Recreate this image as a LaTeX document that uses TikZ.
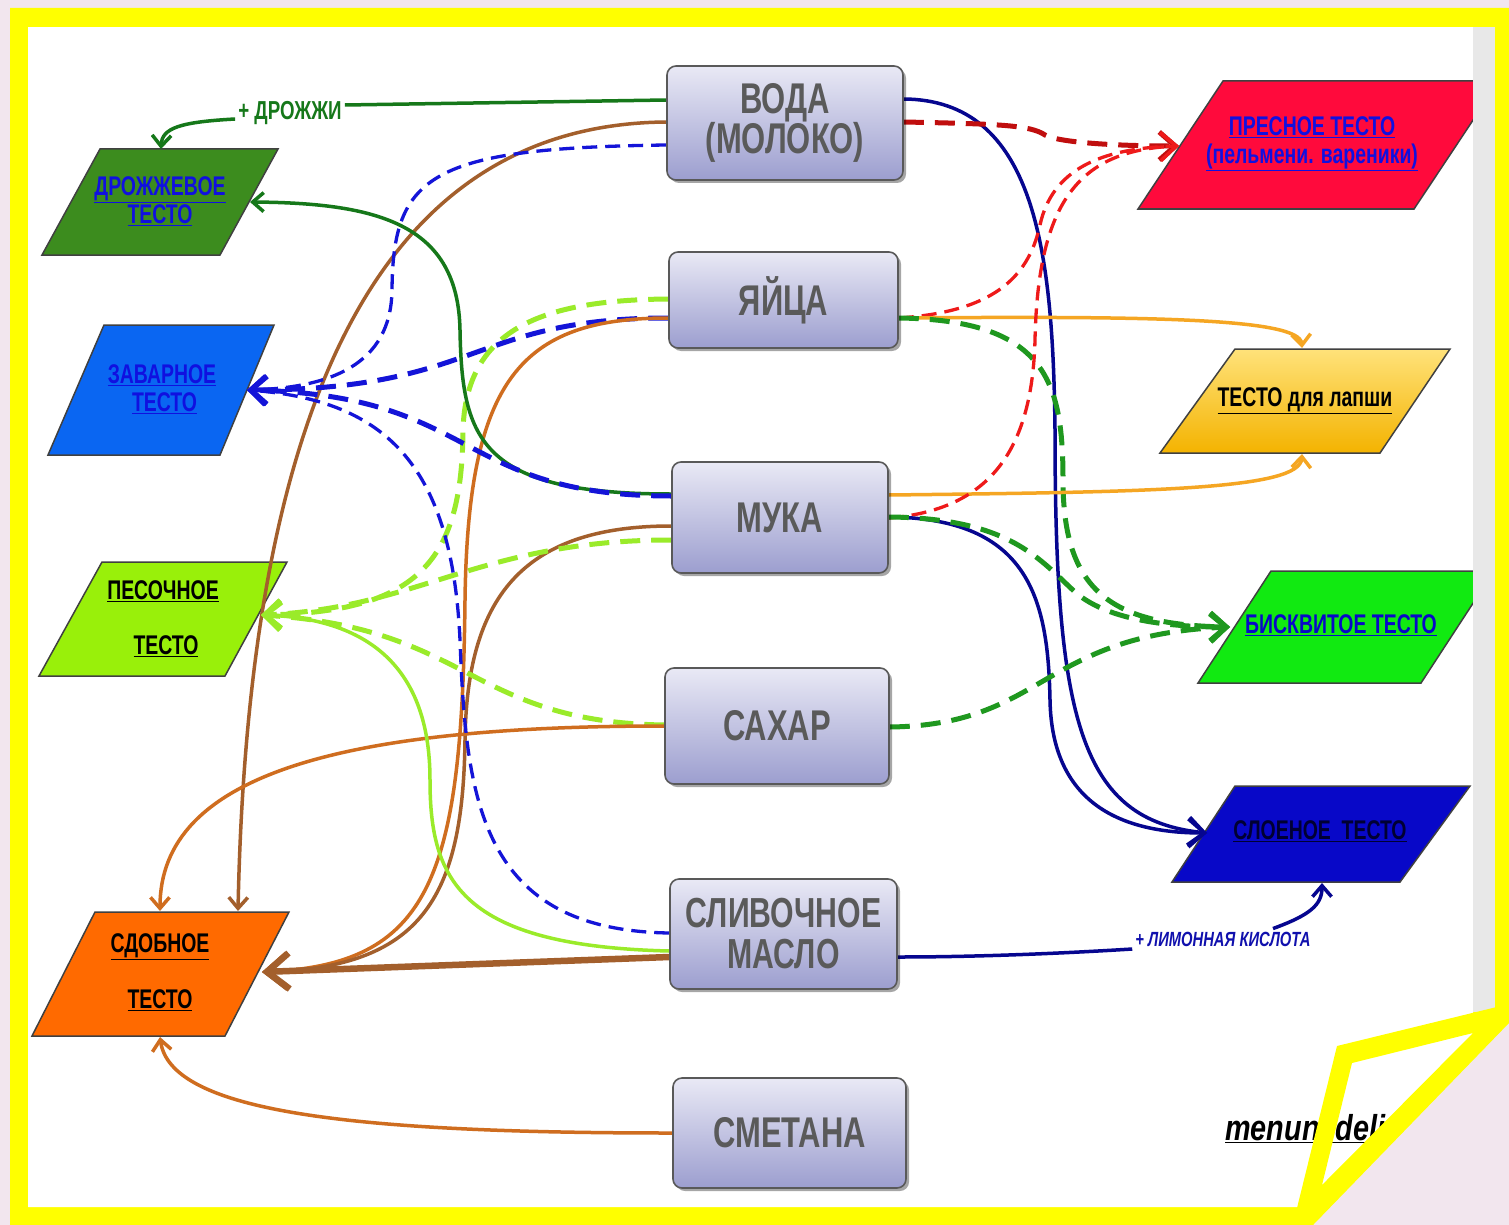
\documentclass[tikz,border=0pt]{standalone}
\usepackage{fontspec}
\setmainfont[FakeStretch=0.72]{Liberation Sans}
\newfontfamily\wmfont[FakeStretch=0.8]{Liberation Sans}
\usetikzlibrary{arrows.meta,shadows,calc}
\pgfdeclarelayer{bg}
\pgfdeclarelayer{lines}
\pgfdeclarelayer{fg}
\pgfsetlayers{bg,lines,main,fg}
\definecolor{bgpink}{HTML}{F2E6EE}
\definecolor{frameY}{HTML}{FFFF00}
\definecolor{stripG}{HTML}{E8E8E8}
\definecolor{boxtop}{HTML}{E9E9F5}
\definecolor{boxbot}{HTML}{9C9ECF}
\definecolor{boxtext}{HTML}{5A5A5A}
\definecolor{dgreen}{HTML}{16781A}
\definecolor{brownA}{HTML}{A35F2C}
\definecolor{orangeB}{HTML}{CF6D1F}
\definecolor{orangeL}{HTML}{F5A623}
\definecolor{navy}{HTML}{06068F}
\definecolor{blueD}{HTML}{1414D8}
\definecolor{redD}{HTML}{C00E0E}
\definecolor{redL}{HTML}{EE1A1A}
\definecolor{greenD}{HTML}{1F981F}
\definecolor{limeL}{HTML}{9AEB2A}
\definecolor{linkblue}{HTML}{1010E0}
\definecolor{pDro}{HTML}{3C8C1E}
\definecolor{pZav}{HTML}{0A66F2}
\definecolor{pPes}{HTML}{99F00A}
\definecolor{pSdo}{HTML}{FF6A00}
\definecolor{pPre}{HTML}{FF0A3C}
\definecolor{pLapT}{HTML}{FFE27A}
\definecolor{pLapB}{HTML}{F4B300}
\definecolor{pBis}{HTML}{11EA11}
\definecolor{pSlo}{HTML}{0808C8}
\definecolor{sloText}{HTML}{000033}
\begin{document}
\begin{tikzpicture}[x=1pt,y=-1pt,
  ingr/.style={rectangle, rounded corners=9pt, draw=black!65, line width=1.6pt,
    top color=boxtop, bottom color=boxbot, inner sep=0pt, align=center,
    text=boxtext, font=\fontsize{43}{40}\selectfont\bfseries,
    drop shadow={shadow xshift=3pt, shadow yshift=-3pt, fill=black, opacity=0.35}},
  para/.style={draw=black!75, line width=1.5pt, line join=miter},
  plabel/.style={align=center, inner sep=0pt, font=\fontsize{27}{28}\selectfont\bfseries},
  sol/.style={line width=3.5pt},
  dshthin/.style={line width=3.3pt, dash pattern=on 15pt off 8pt},
  dshthick/.style={line width=5pt, dash pattern=on 20pt off 11pt},
  tipS/.style={-{Straight Barb[length=11pt,width=19pt]}},
  tipM/.style={-{Straight Barb[length=16pt,width=28pt]}},
  tipL/.style={-{Straight Barb[length=22pt,width=36pt]}}
]
\useasboundingbox (0,0) rectangle (1509,1225);

% ---------- page and frame ----------
\begin{pgfonlayer}{bg}
\fill[bgpink] (0,0) rectangle (1509,1225);
\fill[frameY] (10,8) -- (1509,8) -- (1509,1022) -- (1312,1225) -- (10,1225) -- cycle;
\fill[white] (28,27) -- (1473,27) -- (1473,1050) -- (1320,1207) -- (28,1207) -- cycle;

% ---------- result shapes ----------
\path[para, fill=pDro] (100,149) -- (278,149) -- (220,255) -- (42,255) -- cycle;
\node[plabel, text=linkblue] (drozh) at (160,201.5) {\underline{ДРОЖЖЕВОЕ}\\\underline{ТЕСТО}};

\path[para, fill=pZav] (104,325) -- (274,325) -- (220,455) -- (48,455) -- cycle;
\node[plabel, text=linkblue] (zavar) at (162,389.5) {\underline{ЗАВАРНОЕ}\\\hspace*{5pt}\underline{ТЕСТО}};

\path[para, fill=pPes] (102,562) -- (287,562) -- (225,676) -- (39,676) -- cycle;
\node[plabel, text=black] (pesoch) at (163,618.5) {\underline{ПЕСОЧНОЕ}\\[27pt]\hspace*{6pt}\underline{ТЕСТО}};

\path[para, fill=pSdo] (95,912) -- (289,912) -- (225,1036) -- (32,1036) -- cycle;
\node[plabel, text=black] (sdob) at (160,972) {\underline{СДОБНОЕ}\\[28pt]\underline{ТЕСТО}};

\path[para, fill=pPre] (1223,81) -- (1499,81) -- (1414,209) -- (1138,209) -- cycle;
\node[plabel, text=linkblue] (presn) at (1312,144) {\underline{ПРЕСНОЕ ТЕСТО}\\\underline{(пельмени. вареники)}};

\path[para, top color=pLapT, bottom color=pLapB] (1235,349) -- (1450,349) -- (1380,453) -- (1160,453) -- cycle;
\node[plabel, text=black] (lapsh) at (1305,401) {\underline{ТЕСТО для лапши}};

\path[para, fill=pBis] (1271,571) -- (1494,571) -- (1421,683) -- (1198,683) -- cycle;
\node[plabel, text=pSlo] (biskv) at (1341,625) {\underline{БИСКВИТОЕ ТЕСТО}};

\path[para, fill=pSlo] (1235,786) -- (1470,786) -- (1400,882) -- (1172,882) -- cycle;
\node[plabel, text=sloText] (sloen) at (1320,831) {\underline{СЛОЕНОЕ\ \ ТЕСТО}};

\node[anchor=base west, inner sep=0pt, font=\wmfont\fontsize{36}{38}\selectfont\bfseries\itshape] (wm) at (1225,1140) {\underline{menunedeli}};
\end{pgfonlayer}

% ---------- arrow targets ----------
\coordinate (drT) at (161,149);
\coordinate (drR) at (250,202);
\coordinate (zaR) at (247,390);
\coordinate (peR) at (261,615);
\coordinate (sdTL) at (160,911);
\coordinate (sdTR) at (238,911);
\coordinate (sdR) at (262,972);
\coordinate (sdB) at (160,1037);
\coordinate (prL) at (1179,146);
\coordinate (laT) at (1302,348);
\coordinate (laB) at (1302,454);
\coordinate (biL) at (1230,627);
\coordinate (slL) at (1207,833);
\coordinate (slB) at (1322,883);

% ---------- ingredient boxes ----------
\node[ingr, minimum width=236pt, minimum height=114pt] (voda) at (785,123) {ВОДА\\(МОЛОКО)};
\node[ingr, minimum width=229pt, minimum height=96pt] (yaica) at (783.5,300) {ЯЙЦА};
\node[ingr, minimum width=216pt, minimum height=111pt] (muka) at (780,517.5) {МУКА};
\node[ingr, minimum width=224pt, minimum height=116pt] (sahar) at (777,726) {САХАР};
\node[ingr, minimum width=227pt, minimum height=110pt, font=\fontsize{42}{41}\selectfont\bfseries] (maslo) at (783.5,934) {СЛИВОЧНОЕ\\МАСЛО};
\node[ingr, minimum width=233pt, minimum height=110pt] (smetana) at (789.5,1133) {СМЕТАНА};

% ---------- connector labels ----------
\node[font=\fontsize{26}{27}\selectfont\bfseries, text=dgreen, inner sep=3pt] (dro) at (290,113) {+ ДРОЖЖИ};
\node[font=\fontsize{20.5}{22}\selectfont\bfseries\itshape, text=blueD!80!black, inner sep=3pt] (lim) at (1223,939) {+ ЛИМОННАЯ КИСЛОТА};

% ---------- connectors ----------
\begin{pgfonlayer}{lines}
% from ВОДА
\draw[sol, dgreen] (voda.west |- 0,100) -- ([yshift=8pt]dro.east);
\draw[sol, dgreen, tipS] ([yshift=-6pt]dro.west) .. controls (180,122) and (162,128) .. (drT);
\draw[sol, brownA, tipS] (voda.west |- 0,122) .. controls (420,124) and (250,330) .. (sdTR);
\draw[dshthin, blueD, tipM] (voda.west |- 0,145) .. controls (430,148) and (393,175) .. (392,290) .. controls (391,365) and (330,388) .. (zaR);
\draw[sol, navy, tipM] (voda.east |- 0,99) .. controls (1035,100) and (1053,250) .. (1055,430) .. controls (1055,720) and (1080,820) .. (slL);
\draw[dshthick, redD, tipM] (voda.east |- 0,122) .. controls (1000,124) and (1030,125) .. (1045,135) .. controls (1060,143) and (1120,146) .. (prL);
% from ЯЙЦА
\draw[dshthick, limeL, tipM] (yaica.west |- 0,299) .. controls (540,300) and (466,330) .. (463,430) .. controls (462,560) and (420,612) .. (peR);
\draw[dshthick, blueD, tipM] (yaica.west |- 0,318) .. controls (470,318) and (480,390) .. (zaR);
\draw[sol, orangeB, tipL] (yaica.west |- 0,318) .. controls (520,318) and (468,380) .. (465,600) .. controls (462,880) and (430,965) .. (sdR);
\draw[dshthin, redL, tipM] (yaica.east |- 0,318) .. controls (990,312) and (1028,280) .. (1040,225) .. controls (1052,170) and (1100,148) .. (prL);
\draw[sol, orangeL, tipS] (yaica.east |- 0,318) .. controls (1150,316) and (1300,318) .. (laT);
\draw[dshthick, greenD, tipM] (yaica.east |- 0,318) .. controls (1045,320) and (1063,380) .. (1063,480) .. controls (1063,590) and (1110,625) .. (biL);
% from МУКА
\draw[sol, dgreen, tipS] (muka.west |- 0,494) .. controls (480,494) and (462,440) .. (460,330) .. controls (458,225) and (380,203) .. (drR);
\draw[dshthick, blueD, tipM] (muka.west |- 0,496) .. controls (455,496) and (480,395) .. (zaR);
\draw[sol, brownA, tipL] (muka.west |- 0,526) .. controls (520,526) and (467,600) .. (465,740) .. controls (463,900) and (420,968) .. (sdR);
\draw[dshthick, limeL, tipM] (muka.west |- 0,540) .. controls (480,540) and (420,608) .. (peR);
\draw[sol, orangeL, tipS] (muka.east |- 0,495) .. controls (1150,492) and (1300,490) .. (laB);
\draw[dshthin, redL, tipM] (muka.east |- 0,518) .. controls (990,510) and (1032,450) .. (1035,340) .. controls (1038,200) and (1080,150) .. (prL);
\draw[sol, navy, tipM] (muka.east |- 0,517) .. controls (1030,518) and (1048,600) .. (1050,700) .. controls (1052,810) and (1130,833) .. (slL);
\draw[dshthick, greenD, tipM] (muka.east |- 0,517) .. controls (1010,518) and (1040,560) .. (1075,592) .. controls (1105,618) and (1160,627) .. (biL);
% from САХАР
\draw[dshthick, limeL, tipM] (sahar.west |- 0,725) .. controls (470,722) and (470,628) .. (peR);
\draw[sol, orangeB, tipS] (sahar.west |- 0,726) .. controls (340,726) and (160,775) .. (sdTL);
\draw[dshthick, greenD, tipM] (sahar.east |- 0,727) .. controls (1045,725) and (1040,635) .. (biL);
% from СЛИВОЧНОЕ МАСЛО
\draw[dshthin, blueD, tipM] (maslo.west |- 0,933) .. controls (480,930) and (466,800) .. (460,640) .. controls (452,470) and (390,400) .. (zaR);
\draw[sol, limeL, tipM] (maslo.west |- 0,951) .. controls (460,946) and (430,880) .. (430,780) .. controls (430,660) and (360,618) .. (peR);
\draw[line width=6.5pt, brownA, tipL] (maslo.west |- 0,957) -- (sdR);
\draw[sol, navy] (maslo.east |- 0,957) .. controls (1000,957) and (1100,951) .. ([yshift=-10pt]lim.west);
\draw[sol, navy, tipS] ([xshift=50pt]lim.north) .. controls (1310,915) and (1322,905) .. (slB);
% from СМЕТАНА
\draw[sol, orangeB, tipS] (smetana.west |- 0,1133) .. controls (340,1133) and (170,1110) .. (sdB);
\end{pgfonlayer}

% ---------- frame on top ----------
\begin{pgfonlayer}{fg}
\fill[stripG] (1473,27) rectangle (1495,1012);
\fill[frameY] (10,8) rectangle (1509,27);
\fill[frameY] (1495,8) rectangle (1509,1022);
\fill[frameY, even odd rule] (1296,1212) -- (1337,1046) -- (1509,1004) -- (1509,1023) -- (1313,1225) -- (1296,1225) -- cycle
  (1352,1063) -- (1473,1033) -- (1322,1185) -- cycle;
\end{pgfonlayer}
\end{tikzpicture}
\end{document}
